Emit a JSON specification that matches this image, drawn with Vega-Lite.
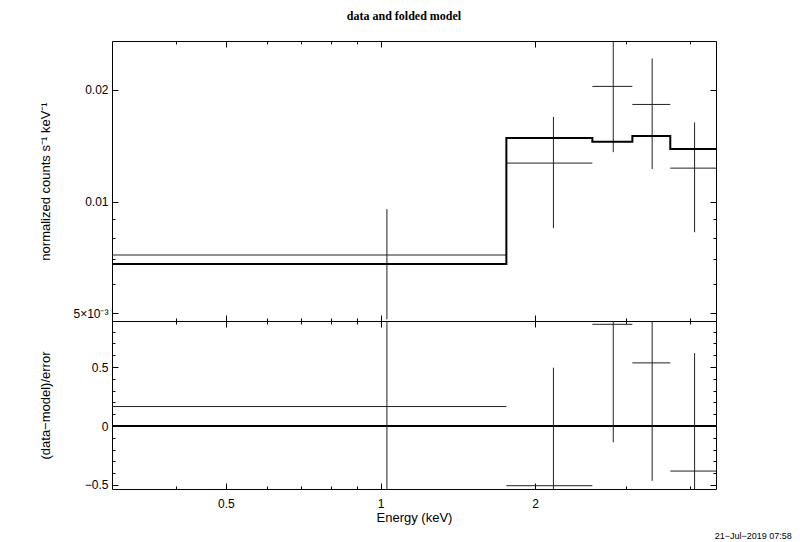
{
  "$schema": "https://vega.github.io/schema/vega-lite/v6.json",
  "background": "white",
  "padding": {"left": 38, "top": 9, "right": 5, "bottom": 5},
  "spacing": 0,
  "bounds": "flush",
  "datasets": {
    "bins": [
      {"lo": 0.3, "hi": 1.758, "c": 1.029, "v": 0.00718, "vlo": 0.00482, "vhi": 0.00954, "r": 0.165, "rlo": -0.835, "rhi": 1.165},
      {"lo": 1.758, "hi": 2.585, "c": 2.171, "v": 0.01269, "vlo": 0.00848, "vhi": 0.0169, "r": -0.506, "rlo": -1.506, "rhi": 0.494},
      {"lo": 2.585, "hi": 3.093, "c": 2.839, "v": 0.02041, "vlo": 0.01358, "vhi": 0.02724, "r": 0.862, "rlo": -0.138, "rhi": 1.862},
      {"lo": 3.093, "hi": 3.666, "c": 3.38, "v": 0.01825, "vlo": 0.01223, "vhi": 0.02427, "r": 0.535, "rlo": -0.465, "rhi": 1.535},
      {"lo": 3.666, "hi": 4.5, "c": 4.088, "v": 0.0123, "vlo": 0.00827, "vhi": 0.01633, "r": -0.382, "rlo": -1.382, "rhi": 0.618}
    ],
    "model": [
      {"e": 0.3, "m": 0.00679},
      {"e": 1.758, "m": 0.01482},
      {"e": 2.585, "m": 0.01448},
      {"e": 3.093, "m": 0.015},
      {"e": 3.666, "m": 0.01384},
      {"e": 4.5, "m": 0.01384}
    ]
  },
  "config": {
    "view": {"stroke": "black", "strokeWidth": 1},
    "axis": {
      "domain": false, "grid": false, "tickColor": "black", "tickWidth": 1,
      "labelColor": "black", "titleColor": "black",
      "labelFont": "Liberation Sans", "titleFont": "Liberation Sans",
      "labelFontSize": 12, "titleFontSize": 13, "titleFontWeight": "normal"
    }
  },
  "vconcat": [
    {
      "width": 604,
      "height": 280,
      "title": {"text": "data and folded model", "font": "Liberation Serif", "fontSize": 12, "fontWeight": "bold", "offset": 18, "dx": -10, "color": "black"},
      "data": {"name": "bins"},
      "resolve": {"axis": {"x": "independent", "y": "independent"}},
      "layer": [
        {
          "mark": {"type": "rule", "color": "#222", "strokeWidth": 1, "clip": true},
          "encoding": {
            "x": {"field": "lo", "type": "quantitative", "scale": {"type": "log", "domain": [0.3, 4.5], "nice": false},
                  "axis": {"orient": "bottom", "values": [0.5, 1, 2], "labels": false, "tickSize": -6, "title": null}},
            "x2": {"field": "hi"},
            "y": {"field": "v", "type": "quantitative", "scale": {"type": "log", "domain": [0.00477, 0.02704], "nice": false},
                  "axis": {"orient": "left", "values": [0.005, 0.01, 0.02], "tickSize": -6, "labelPadding": 10,
                           "labelExpr": "datum.value < 0.006 ? '5×10⁻³' : (datum.value < 0.015 ? '0.01' : '0.02')",
                           "title": "normalized counts s⁻¹ keV⁻¹", "titleX": -60}}
          }
        },
        {
          "mark": {"type": "rule", "color": "#222", "strokeWidth": 1, "clip": true},
          "encoding": {
            "x": {"field": "c", "type": "quantitative",
                  "axis": {"orient": "bottom", "values": [0.4, 0.6, 0.7, 0.8, 0.9, 3, 4], "labels": false, "tickSize": -3, "title": null}},
            "y": {"field": "vlo", "type": "quantitative",
                  "axis": {"orient": "left", "values": [0.006, 0.007, 0.008, 0.009], "labels": false, "tickSize": -3, "title": null}},
            "y2": {"field": "vhi"}
          }
        },
        {
          "data": {"name": "model"},
          "mark": {"type": "line", "color": "black", "strokeWidth": 2, "interpolate": "step-after", "clip": true},
          "encoding": {
            "x": {"field": "e", "type": "quantitative",
                  "axis": {"orient": "top", "values": [0.5, 1, 2], "labels": false, "tickSize": -6, "title": null}},
            "y": {"field": "m", "type": "quantitative",
                  "axis": {"orient": "right", "values": [0.005, 0.01, 0.02], "labels": false, "tickSize": -6, "title": null}}
          }
        },
        {
          "mark": {"type": "point", "opacity": 0},
          "encoding": {
            "x": {"field": "c", "type": "quantitative",
                  "axis": {"orient": "top", "values": [0.4, 0.6, 0.7, 0.8, 0.9, 3, 4], "labels": false, "tickSize": -3, "title": null}},
            "y": {"field": "v", "type": "quantitative",
                  "axis": {"orient": "right", "values": [0.006, 0.007, 0.008, 0.009], "labels": false, "tickSize": -3, "title": null}}
          }
        }
      ]
    },
    {
      "width": 604,
      "height": 168,
      "title": {"text": "21−Jul−2019 07:58", "orient": "bottom", "anchor": "end", "font": "Liberation Sans", "fontSize": 9, "fontWeight": "normal", "dx": 75, "offset": 8, "color": "black"},
      "data": {"name": "bins"},
      "resolve": {"axis": {"x": "independent", "y": "independent"}},
      "layer": [
        {
          "mark": {"type": "rule", "color": "black", "strokeWidth": 1.5},
          "encoding": {
            "y": {"datum": 0, "type": "quantitative", "axis": null}
          }
        },
        {
          "mark": {"type": "rule", "color": "#222", "strokeWidth": 1, "clip": true},
          "encoding": {
            "x": {"field": "lo", "type": "quantitative", "scale": {"type": "log", "domain": [0.3, 4.5], "nice": false},
                  "axis": {"orient": "bottom", "values": [0.5, 1, 2], "tickSize": -6, "labelPadding": 15,
                           "labelExpr": "datum.value < 0.7 ? '0.5' : (datum.value < 1.5 ? '1' : '2')",
                           "title": "Energy (keV)", "titlePadding": 2}},
            "x2": {"field": "hi"},
            "y": {"field": "r", "type": "quantitative", "scale": {"domain": [-0.534, 0.89], "nice": false, "zero": false},
                  "axis": {"orient": "left", "values": [-0.5, 0, 0.5], "tickSize": -6, "labelPadding": 10,
                           "labelExpr": "datum.value == 0 ? '0' : (datum.value > 0 ? '0.5' : '−0.5')",
                           "title": "(data−model)/error", "titleX": -60}}
          }
        },
        {
          "mark": {"type": "rule", "color": "#222", "strokeWidth": 1, "clip": true},
          "encoding": {
            "x": {"field": "c", "type": "quantitative",
                  "axis": {"orient": "bottom", "values": [0.4, 0.6, 0.7, 0.8, 0.9, 3, 4], "labels": false, "tickSize": -3, "title": null}},
            "y": {"field": "rlo", "type": "quantitative",
                  "axis": {"orient": "left", "values": [-0.4, -0.3, -0.2, -0.1, 0.1, 0.2, 0.3, 0.4, 0.6, 0.7, 0.8], "labels": false, "tickSize": -3, "title": null}},
            "y2": {"field": "rhi"}
          }
        },
        {
          "mark": {"type": "point", "opacity": 0},
          "encoding": {
            "x": {"field": "c", "type": "quantitative",
                  "axis": {"orient": "top", "values": [0.5, 1, 2], "labels": false, "tickSize": -6, "title": null}},
            "y": {"field": "r", "type": "quantitative",
                  "axis": {"orient": "right", "values": [-0.5, 0, 0.5], "labels": false, "tickSize": -6, "title": null}}
          }
        },
        {
          "mark": {"type": "point", "opacity": 0},
          "encoding": {
            "x": {"field": "c", "type": "quantitative",
                  "axis": {"orient": "top", "values": [0.4, 0.6, 0.7, 0.8, 0.9, 3, 4], "labels": false, "tickSize": -3, "title": null}},
            "y": {"field": "r", "type": "quantitative",
                  "axis": {"orient": "right", "values": [-0.4, -0.3, -0.2, -0.1, 0.1, 0.2, 0.3, 0.4, 0.6, 0.7, 0.8], "labels": false, "tickSize": -3, "title": null}}
          }
        }
      ]
    }
  ]
}
